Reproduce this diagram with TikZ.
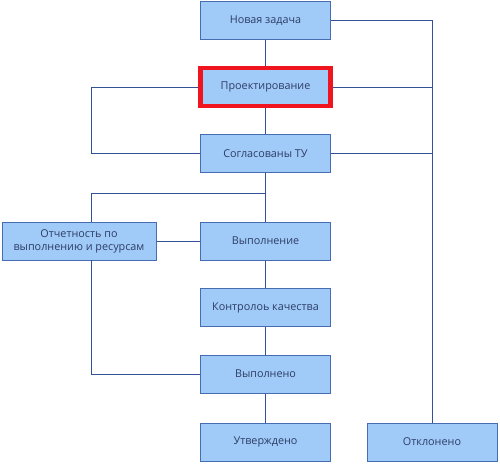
\documentclass[tikz,border=0pt]{standalone}
\usepackage{fontspec}
\setmainfont{Open Sans}
\definecolor{boxfill}{RGB}{160,203,249}
\definecolor{boxline}{RGB}{70,108,178}
\definecolor{linkc}{RGB}{52,80,150}
\definecolor{txtc}{RGB}{45,60,100}
\definecolor{hlred}{RGB}{240,20,30}
\tikzset{
  stepbox/.style={draw=boxline, fill=boxfill, line width=1pt, minimum width=130pt, minimum height=38pt, inner sep=2pt, text=txtc, font=\fontsize{10.8}{12.8}\selectfont, align=center},
  hlbox/.style={stepbox, draw=hlred, line width=4.5pt, minimum width=130pt, minimum height=38pt},
  link/.style={draw=linkc, line width=0.9pt}
}
\begin{document}
\begin{tikzpicture}[x=1pt,y=-1pt]
\useasboundingbox (0,0) rectangle (500,463);
\node[stepbox] (nov) at (265.5,20.5) {Новая задача};
\node[hlbox] (proj) at (265.5,87) {Проектирование};
\node[stepbox] (sogl) at (265.5,153.5) {Согласованы ТУ};
\node[stepbox, minimum width=154pt] (otch) at (79,241) {Отчетность по\\выполнению и ресурсам};
\node[stepbox] (vyp) at (265.5,241) {Выполнение};
\node[stepbox] (kontr) at (265.5,307.5) {Контролоь качества};
\node[stepbox] (vypd) at (265.5,374) {Выполнено};
\node[stepbox] (utv) at (265.5,442) {Утверждено};
\node[stepbox] (otkl) at (432,442) {Отклонено};
\coordinate (r1) at (432,20.5);
\coordinate (r2) at (432,87);
\coordinate (r3) at (432,153.5);
\coordinate (l1) at (91,87);
\coordinate (l2) at (91,153.5);
\coordinate (br) at (265.5,193);
\coordinate (bl) at (91,193);
\coordinate (ot) at (91,222);
\coordinate (ob) at (91,260);
\coordinate (lb) at (91,374);
\draw[link] (nov.east) -- (r1) -- (otkl.north);
\draw[link] (proj.east) -- (r2);
\draw[link] (sogl.east) -- (r3);
\draw[link] (proj.west) -- (l1) -- (l2) -- (sogl.west);
\draw[link] (nov.south) -- (proj.north);
\draw[link] (proj.south) -- (sogl.north);
\draw[link] (sogl.south) -- (vyp.north);
\draw[link] (br) -- (bl) -- (ot);
\draw[link] (otch.east) -- (vyp.west);
\draw[link] (ob) -- (lb) -- (vypd.west);
\draw[link] (vyp.south) -- (kontr.north);
\draw[link] (kontr.south) -- (vypd.north);
\draw[link] (vypd.south) -- (utv.north);
\end{tikzpicture}
\end{document}
